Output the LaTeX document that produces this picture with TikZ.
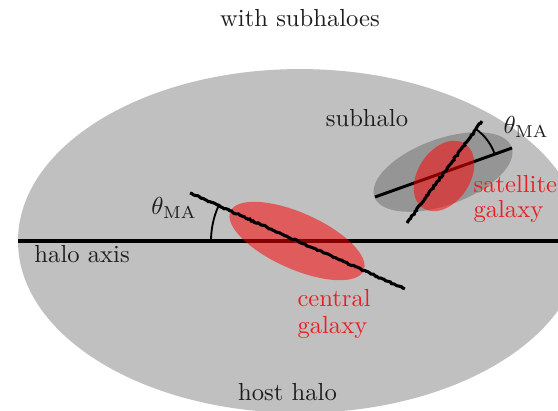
\documentclass[tikz,border=0pt]{standalone}
\usetikzlibrary{decorations.pathmorphing}
\definecolor{halogray}{RGB}{192,192,192}
\definecolor{txt}{RGB}{30,30,30}
\definecolor{galred}{RGB}{235,30,35}
\tikzset{
  lbl/.style={inner sep=0pt, text=txt, font=\fontsize{10}{12}\selectfont},
  redlbl/.style={inner sep=0pt, text=galred, font=\fontsize{10}{12}\selectfont},
  axisline/.style={line width=1.6pt},
  jagged/.style={line width=1.25pt, decorate,
    decoration={random steps, segment length=0.8pt, amplitude=0.28pt}},
  redgal/.style={fill=red, fill opacity=0.52},
  anglearc/.style={line width=0.75pt}
}
\begin{document}
\begin{tikzpicture}[x=0.406pt, y=-0.406pt]
\pgfmathsetseed{7}
\useasboundingbox (0,0) rectangle (558,411);
\fill[white] (0,0) rectangle (558,411);
\clip (0,0) rectangle (558,411);
% coordinates
\coordinate (hc) at (300,241);
\coordinate (ax1) at (18,241);
\coordinate (ax2) at (560,241);
\coordinate (cc) at (297,241);
\coordinate (ca1) at (190,193);
\coordinate (ca2) at (405,289);
\coordinate (sc) at (443,172);
\coordinate (sl1) at (375,197);
\coordinate (sl2) at (512,148);
\coordinate (satc) at (444,176);
\coordinate (st1) at (482,121);
\coordinate (st2) at (407,223);
\coordinate (la) at (211,241);
\coordinate (ra) at (494.6,153.7);
% host halo
\fill[halogray] (hc) ellipse [x radius=114.5pt, y radius=69.8pt];
\draw[axisline] (ax1) -- (ax2);
% subhalo
\fill[black, opacity=0.22, rotate around={20:(sc)}] (sc) ellipse [x radius=29.6pt, y radius=13.4pt];
\draw[line width=1.2pt] (sl1) -- (sl2);
% galaxies
\fill[redgal, rotate around={-24:(cc)}] (cc) ellipse [x radius=29.6pt, y radius=11.4pt];
\fill[redgal, rotate around={57:(satc)}] (satc) ellipse [x radius=15.6pt, y radius=10.6pt];
\draw[jagged] (ca1) -- (ca2);
\draw[jagged] (st2) -- (st1);
% angle arcs
\draw[anglearc] (la) arc[start angle=180, end angle=156, radius=34.9pt];
\draw[anglearc] (ra) arc[start angle=19.9, end angle=53.7, radius=21.1pt];
% labels
\node[lbl, anchor=base] (title) at (300,27) {with subhaloes};
\node[lbl, anchor=base] (sub) at (367,127) {subhalo};
\node[lbl, anchor=base west] (th1) at (151,215) {$\theta_{\mathrm{MA}}$};
\node[lbl, anchor=base west] (th2) at (503,134) {$\theta_{\mathrm{MA}}$};
\node[lbl, anchor=base west] (hax) at (34,263) {halo axis};
\node[lbl, anchor=base] (host) at (287.5,400) {host halo};
\node[redlbl, anchor=base west] (cg1) at (297,307) {central};
\node[redlbl, anchor=base west] (cg2) at (297,333) {galaxy};
\node[redlbl, anchor=base west] (sg1) at (473,193) {satellite};
\node[redlbl, anchor=base west] (sg2) at (473,218) {galaxy};
\end{tikzpicture}
\end{document}
